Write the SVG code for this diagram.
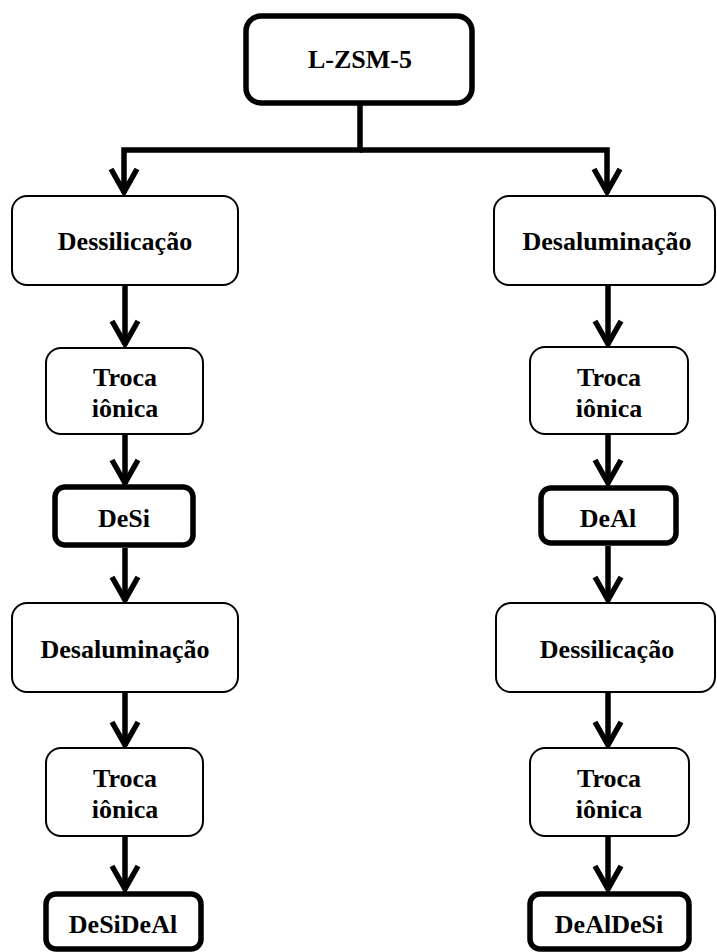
<svg xmlns="http://www.w3.org/2000/svg" width="717" height="952" viewBox="0 0 717 952">
  <style>
    .box { fill: #ffffff; stroke: #000000; stroke-width: 2; }
    .key { fill: #ffffff; stroke: #000000; stroke-width: 5.5; }
    .lbl { font-family: "Liberation Serif", "Times New Roman", serif; font-weight: bold; font-size: 26px; fill: #000000; text-anchor: middle; }
    .flow { fill: none; stroke: #000000; stroke-width: 5.5; stroke-linejoin: miter; }
  </style>
  <defs>
    <marker id="chev" markerUnits="userSpaceOnUse" markerWidth="40" markerHeight="40" viewBox="-30 -20 40 40" refX="0" refY="0" orient="auto" overflow="visible">
      <path d="M-24,-13 L-1,0 L-24,13" fill="none" stroke="#000000" stroke-width="5.5" stroke-linejoin="miter"/>
    </marker>
  </defs>

  <!-- connectors -->
  <g id="connectors" class="flow">
    <path d="M360,103 V150 H124 V193" marker-end="url(#chev)"/>
    <path d="M360,150 H607 V193" marker-end="url(#chev)"/>
    <!-- left branch -->
    <path d="M125,286 V345" marker-end="url(#chev)"/>
    <path d="M125,435 V484" marker-end="url(#chev)"/>
    <path d="M125,548 V601" marker-end="url(#chev)"/>
    <path d="M125,693 V746" marker-end="url(#chev)"/>
    <path d="M125,837 V890" marker-end="url(#chev)"/>
    <!-- right branch -->
    <path d="M608,286 V345" marker-end="url(#chev)"/>
    <path d="M608,435 V484" marker-end="url(#chev)"/>
    <path d="M608,546 V601" marker-end="url(#chev)"/>
    <path d="M608,693 V746" marker-end="url(#chev)"/>
    <path d="M608,837 V890" marker-end="url(#chev)"/>
  </g>

  <g id="lzsm5">
    <rect class="key" x="246" y="16" width="226" height="87" rx="15"/>
    <text class="lbl" x="360" y="68" font-size="25">L-ZSM-5</text>
  </g>

  <!-- left branch -->
  <g id="left-dessilicacao">
    <rect class="box" x="12" y="196" width="226" height="89" rx="15"/>
    <text class="lbl" x="125" y="250">Dessilicação</text>
  </g>
  <g id="left-troca-1">
    <rect class="box" x="46" y="348" width="157" height="86" rx="15"/>
    <text class="lbl" x="125" y="386">Troca</text>
    <text class="lbl" x="125" y="417">iônica</text>
  </g>
  <g id="desi">
    <rect class="key" x="55" y="487" width="138" height="58" rx="10"/>
    <text class="lbl" x="124" y="527">DeSi</text>
  </g>
  <g id="left-desaluminacao">
    <rect class="box" x="12" y="603" width="226" height="89" rx="15"/>
    <text class="lbl" x="125" y="658">Desaluminação</text>
  </g>
  <g id="left-troca-2">
    <rect class="box" x="46" y="748" width="157" height="88" rx="15"/>
    <text class="lbl" x="125" y="787">Troca</text>
    <text class="lbl" x="125" y="818">iônica</text>
  </g>
  <g id="desideal">
    <rect class="key" x="46" y="894" width="155" height="55" rx="10"/>
    <text class="lbl" x="123" y="933">DeSiDeAl</text>
  </g>

  <!-- right branch -->
  <g id="right-desaluminacao">
    <rect class="box" x="494" y="196" width="221" height="89" rx="15"/>
    <text class="lbl" x="607" y="250">Desaluminação</text>
  </g>
  <g id="right-troca-1">
    <rect class="box" x="530" y="347" width="158" height="87" rx="15"/>
    <text class="lbl" x="609" y="386">Troca</text>
    <text class="lbl" x="609" y="417">iônica</text>
  </g>
  <g id="deal">
    <rect class="key" x="541" y="488" width="135" height="55" rx="10"/>
    <text class="lbl" x="608" y="527">DeAl</text>
  </g>
  <g id="right-dessilicacao">
    <rect class="box" x="496" y="603" width="219" height="89" rx="15"/>
    <text class="lbl" x="607" y="658">Dessilicação</text>
  </g>
  <g id="right-troca-2">
    <rect class="box" x="530" y="748" width="159" height="88" rx="15"/>
    <text class="lbl" x="609" y="787">Troca</text>
    <text class="lbl" x="609" y="818">iônica</text>
  </g>
  <g id="dealdesi">
    <rect class="key" x="530" y="894" width="159" height="55" rx="10"/>
    <text class="lbl" x="609" y="933">DeAlDeSi</text>
  </g>
</svg>
